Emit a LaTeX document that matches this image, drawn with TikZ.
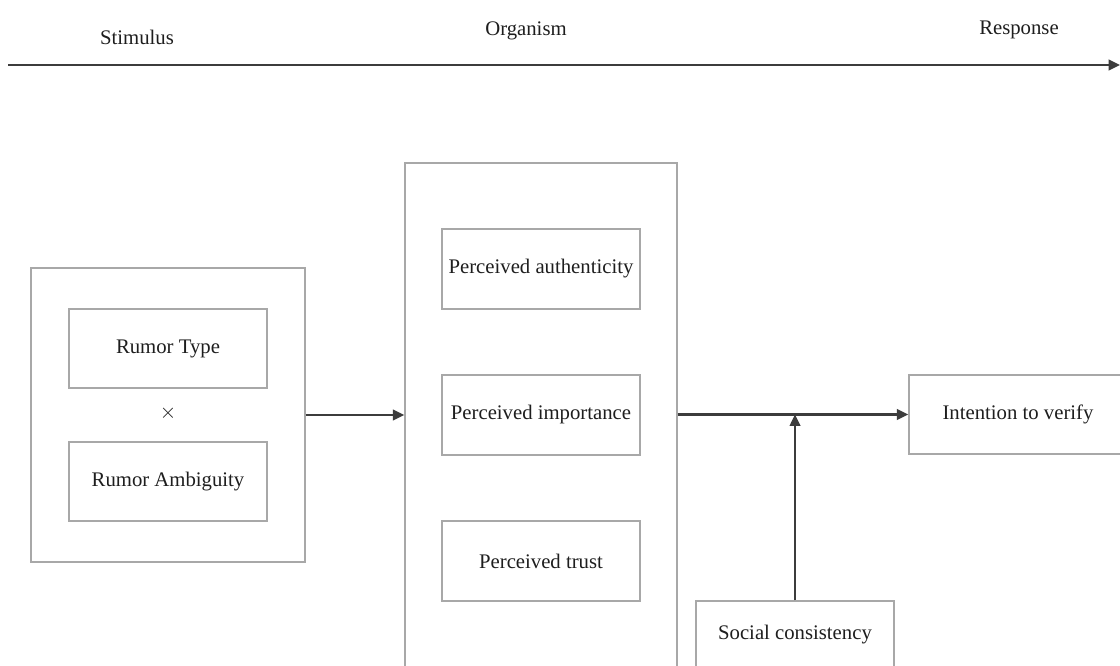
\documentclass[tikz,border=0pt]{standalone}
\usepackage{fontspec}
\setmainfont{Liberation Serif}
\usetikzlibrary{arrows.meta}
\definecolor{boxgray}{HTML}{A8A8A8}
\definecolor{arrowgray}{HTML}{3C3C3C}
\definecolor{txt}{HTML}{1E1E1E}
\begin{document}
\begin{tikzpicture}[x=0.02cm,y=-0.02cm,
  box/.style={draw=boxgray, line width=0.85pt, rectangle, inner sep=0pt,
    font=\fontsize{11.8}{14}\selectfont, text=txt},
  conn/.style={draw=arrowgray, line width=1.2pt, -{Triangle[length=6.5pt,width=6pt]}},
  lbl/.style={font=\fontsize{11.8}{14}\selectfont, inner sep=0pt, text=txt}]
\useasboundingbox (0,0) rectangle (1120,666);
\fill[white] (0,0) rectangle (1120,666);
\clip (0,0) rectangle (1120,666);
% top axis
\node[lbl] (stim) at (137,37) {Stimulus};
\node[lbl] (orgl) at (526,31) {Organism};
\node[lbl] (resp) at (1019,30) {Response};
\coordinate (axl) at (8,65);
\coordinate (axr) at (1120,65);
\draw[conn] (axl) -- (axr);
% stimulus
\node[box, minimum width=5.48cm, minimum height=5.88cm] (left) at (168,415) {};
\node[box, minimum width=3.96cm, minimum height=1.58cm] (type) at (168,348.5) {Rumor Type};
\node[lbl] (times) at (168,413) {$\times$};
\node[box, minimum width=3.96cm, minimum height=1.58cm] (amb) at (168,481.5) {Rumor Ambiguity};
% organism
\node[box, minimum width=5.44cm, minimum height=11.14cm] (org) at (541,441.5) {};
\node[box, minimum width=3.96cm, minimum height=1.6cm] (auth) at (541,269) {Perceived authenticity};
\node[box, minimum width=3.96cm, minimum height=1.6cm] (imp) at (541,415) {Perceived importance};
\node[box, minimum width=3.96cm, minimum height=1.6cm] (trust) at (541,561) {Perceived trust};
% response
\node[box, minimum width=4.36cm, minimum height=1.58cm] (intent) at (1018,414.5) {Intention to verify};
\node[box, minimum width=3.96cm, minimum height=1.34cm] (soc) at (795,634.5) {Social consistency};
% connectors
\draw[conn] (left.east) -- (left.east -| org.west);
\draw[conn] (org.east |- intent.west) -- (intent.west);
\draw[conn] (soc.north) -- (soc.north |- intent.west);
\end{tikzpicture}
\end{document}
